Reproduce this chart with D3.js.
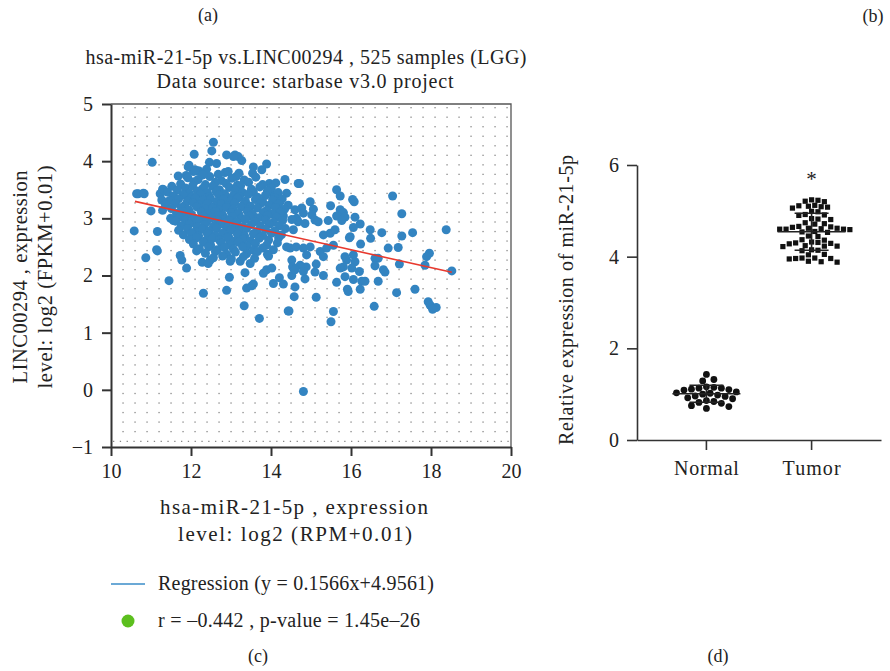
<!DOCTYPE html>
<html>
<head>
<meta charset="utf-8">
<script src="https://cdn.jsdelivr.net/npm/d3@7"></script>
<style>
  body { margin: 0; background: #fff; }
  svg { display: block; }
  text { font-family: "Liberation Serif", "DejaVu Serif", serif; fill: #222; }
</style>
</head>
<body>
<div id="chart"></div>
<script>
// ---- data ----
// panel (c): miR-21-5p (x) vs LINC00294 (y), LGG samples
var lggPoints = [
  [12.56,4.33],[12.52,4.18],[12.08,4.12],[11.03,3.98],[13.1,4.11],[13.18,4.08],[13.27,4.01],[12.89,4.11],[13.06,4.08],
  [12.46,3.98],[12.64,3.96],[11.95,3.93],[12.17,3.83],[12.06,3.82],[12.39,3.86],[12.68,3.77],[12.85,3.80],[12.93,3.82],[13.2,3.79],[13.13,3.73],
  [13.56,3.90],[13.54,3.79],[13.77,3.85],[13.89,3.95],[11.68,3.74],[11.88,3.75],[14.35,3.68],[14.68,3.61],[13.96,3.61],
  [10.64,3.43],[10.81,3.44],[11.29,3.51],[11.23,3.43],[11.0,3.13],[11.29,3.14],[10.58,2.78],[11.16,2.77],[11.49,3.0],[11.56,2.96],
  [14.06,3.41],[14.23,3.29],[14.14,3.15],[14.39,3.44],[14.43,3.23],[14.31,3.04],[14.6,3.15],[14.64,3.0],[14.56,2.8],
  [11.16,2.43],[10.87,2.31],[11.73,2.35],[11.77,2.27],[12.14,2.43],[11.89,2.13],[12.28,2.23],[12.48,2.27],[12.43,2.21],[11.45,1.91],
  [12.98,2.25],[13.23,2.25],[13.48,2.21],[12.96,1.97],[13.35,2.05],[12.31,1.69],[12.89,1.74],[13.39,1.78],[13.52,1.82],[13.56,1.85],
  [13.33,1.47],[13.71,1.25],[13.81,2.04],[13.89,2.10],[14.02,2.13],[14.06,1.86],[14.21,1.96],[14.31,1.85],[14.43,1.38],[14.6,1.80],[14.58,1.63],
  [14.52,2.27],[14.56,2.13],[14.48,2.48],[14.39,2.5],[14.52,2.0],
  [14.71,3.61],[15.64,3.5],[15.73,3.39],[16.04,3.33],[16.08,3.29],[17.04,3.39],[14.98,3.29],[15.49,3.22],
  [14.77,3.18],[14.81,3.09],[15.06,3.16],[15.02,3.06],[15.1,2.97],[15.18,2.94],[17.27,3.08],
  [15.73,3.15],[15.81,3.1],[15.64,3.04],[15.85,3.02],[15.77,2.96],[15.43,2.96],[16.1,3.02],[16.23,2.90],[16.06,2.84],[16.48,2.80],[16.77,2.75],[17.27,2.69],[17.54,2.75],[18.38,2.80],
  [14.85,2.91],[14.68,2.94],[14.52,2.98],[15.48,2.74],[15.6,2.8],[15.31,2.71],[15.98,2.68],
  [16.49,2.65],[15.96,2.66],[16.93,2.48],[17.18,2.49],[17.96,2.39],[17.89,2.33],[17.85,2.18],[18.52,2.08],[17.21,2.2],
  [16.6,2.3],[16.68,2.3],[16.6,2.17],[16.24,2.55],[16.06,2.36],[16.1,2.24],[15.89,2.27],[15.81,2.15],[15.73,2.13],[16.02,2.13],[15.85,2.33],
  [16.81,2.10],[16.85,2.06],[16.21,2.07],[14.88,2.15],[15.13,2.2],[15.1,2.06],[15.31,2.0],[14.85,1.94],
  [15.85,1.98],[16.06,1.93],[16.27,1.9],[16.35,1.9],[16.68,1.9],[15.64,1.88],[15.91,1.76],[15.93,1.72],[16.23,1.76],[15.13,1.62],[17.14,1.70],[17.6,1.76],
  [17.93,1.54],[17.98,1.48],[18.13,1.44],[18.04,1.41],[16.58,1.46],[15.56,1.37],[15.5,1.19],[14.45,1.38],[14.81,-0.03],
  [14.63,2.5],[14.81,2.48],[14.98,2.5],[14.89,2.36],[14.73,2.18],[14.54,2.15],[14.6,2.10],[14.81,2.07],
  [15.23,2.42],[15.39,2.48],[15.56,2.53],[15.31,2.33],
  [11.31,3.50],[11.27,3.32],[11.14,2.45],[10.68,3.43],[10.83,3.43],[12.2,3.83],[11.93,3.90],[12.1,3.85],
  // dense core
  [11.92,3.71],[12.18,3.68],[12.47,3.73],[12.76,3.66],[13.02,3.70],[13.33,3.67],[13.62,3.72],[12.3,3.76],
  [11.74,3.60],[12.08,3.64],[12.36,3.59],[12.61,3.63],[12.88,3.61],[13.16,3.58],[13.44,3.63],[13.79,3.59],[14.12,3.62],
  [11.52,3.56],[11.86,3.53],[12.04,3.57],[12.29,3.52],[12.54,3.56],[12.71,3.50],[12.96,3.54],[13.24,3.57],[13.51,3.51],[13.72,3.55],[14.01,3.53],
  [11.41,3.46],[11.66,3.49],[11.96,3.44],[12.16,3.48],[12.41,3.45],[12.63,3.47],[12.84,3.43],[13.11,3.49],[13.29,3.45],[13.56,3.46],[13.91,3.48],[14.18,3.45],
  [11.56,3.39],[11.81,3.41],[12.01,3.37],[12.24,3.42],[12.46,3.38],[12.69,3.41],[12.91,3.36],[13.06,3.40],[13.21,3.38],[13.43,3.42],[13.66,3.37],[13.86,3.40],[14.09,3.36],
  [11.46,3.31],[11.69,3.34],[11.91,3.30],[12.11,3.35],[12.31,3.32],[12.49,3.34],[12.66,3.29],[12.81,3.33],[13.01,3.31],[13.16,3.35],[13.36,3.30],[13.61,3.33],[13.79,3.29],[14.04,3.32],[14.28,3.34],
  [11.36,3.24],[11.61,3.26],[11.84,3.22],[12.06,3.27],[12.21,3.23],[12.41,3.26],[12.59,3.21],[12.76,3.25],[12.94,3.22],[13.09,3.27],[13.31,3.24],[13.49,3.21],[13.74,3.26],[13.96,3.23],[14.19,3.25],
  [11.51,3.17],[11.76,3.19],[11.94,3.15],[12.14,3.20],[12.36,3.16],[12.54,3.18],[12.71,3.14],[12.89,3.19],[13.06,3.16],[13.26,3.20],[13.44,3.15],[13.66,3.18],[13.89,3.14],[14.11,3.19],[14.34,3.16],
  [11.64,3.09],[11.79,3.12],[12.01,3.07],[12.26,3.11],[12.44,3.08],[12.61,3.12],[12.79,3.06],[13.01,3.10],[13.19,3.08],[13.41,3.12],[13.54,3.07],[13.81,3.10],[14.01,3.08],[14.24,3.11],
  [11.71,3.02],[11.89,3.05],[12.09,3.00],[12.31,3.04],[12.51,3.01],[12.69,3.05],[12.86,2.99],[13.04,3.03],[13.26,3.00],[13.46,3.04],[13.69,3.01],[13.91,3.05],[14.14,3.02],
  [11.61,2.95],[11.86,2.97],[12.04,2.93],[12.21,2.98],[12.39,2.94],[12.66,2.97],[12.81,2.92],[12.96,2.96],[13.14,2.93],[13.36,2.98],[13.59,2.94],[13.86,2.97],[14.06,2.93],[14.29,2.96],
  [11.76,2.87],[11.96,2.90],[12.16,2.85],[12.34,2.89],[12.56,2.86],[12.74,2.90],[12.91,2.84],[13.11,2.88],[13.29,2.85],[13.51,2.89],[13.74,2.86],[13.96,2.90],[14.21,2.87],
  [11.69,2.79],[11.91,2.82],[12.11,2.77],[12.29,2.81],[12.46,2.78],[12.64,2.83],[12.86,2.77],[13.01,2.80],[13.21,2.78],[13.39,2.82],[13.64,2.77],[13.86,2.81],[14.09,2.78],[14.36,2.82],
  [11.81,2.71],[12.01,2.74],[12.19,2.69],[12.41,2.73],[12.61,2.70],[12.79,2.74],[12.94,2.68],[13.16,2.72],[13.34,2.69],[13.56,2.73],[13.79,2.70],[14.01,2.74],[14.26,2.71],
  [11.96,2.63],[12.14,2.66],[12.36,2.61],[12.54,2.65],[12.71,2.62],[12.91,2.66],[13.09,2.60],[13.31,2.64],[13.49,2.61],[13.71,2.65],[13.94,2.62],[14.19,2.66],
  [12.06,2.55],[12.31,2.58],[12.49,2.53],[12.76,2.57],[12.96,2.54],[13.19,2.58],[13.41,2.52],[13.61,2.56],[13.89,2.53],[14.16,2.57],
  [12.21,2.47],[12.44,2.50],[12.66,2.45],[12.84,2.49],[13.06,2.46],[13.29,2.50],[13.56,2.44],[13.79,2.48],[14.06,2.45],
  [12.36,2.39],[12.61,2.42],[12.89,2.37],[13.11,2.41],[13.39,2.38],[13.66,2.42],[13.91,2.37],
  [12.56,2.31],[12.79,2.34],[13.01,2.29],[13.31,2.33],[13.59,2.30],[13.94,2.34]
];
var regSlope = -0.1566, regIntercept = 4.9561;
var regRange = [10.6, 18.52];
var xTicksC = [10, 12, 14, 16, 18, 20];
var yTicksC = [-1, 0, 1, 2, 3, 4, 5];

// panel (d): relative expression of miR-21-5p
var groups = ["Normal", "Tumor"];
var normalVals = [1.43,1.32,1.29,1.13,1.13,1.09,1.05,1.15,1.16,1.11,1.10,1.03,0.96,0.95,1.00,0.98,
                  0.82,0.80,0.75,0.84,0.86,0.73,0.69,0.92,0.90,1.02];
var tumorVals = [5.23,5.21,5.24,5.20,5.12,5.11,5.10,5.08,5.09,5.06,4.99,4.98,4.92,4.90,4.91,4.83,4.81,4.82,
                 4.74,4.72,4.71,4.65,4.64,4.66,4.60,4.60,4.61,4.59,4.60,4.62,4.62,4.55,4.53,4.54,4.45,4.44,
                 4.37,4.36,4.31,4.29,4.30,4.32,4.28,4.23,4.24,4.22,4.23,4.15,4.13,4.14,4.05,4.04,3.97,3.96,
                 3.95,3.96,3.97,3.90,3.88,3.89];
var yTicksD = [0, 2, 4, 6];

var width = 890, height = 671;
var svg = d3.select("#chart").append("svg")
  .attr("width", width)
  .attr("height", height);

// text helper: the original face is wider than Liberation Serif, so stretch to the measured width
function label(x, y, str, size, len, anchor, rot) {
  var t = svg.append("text")
    .attr("font-size", size + "px")
    .attr("text-anchor", anchor || "middle")
    .text(str);
  if (rot) t.attr("transform", "translate(" + x + "," + y + ") rotate(" + rot + ")");
  else t.attr("x", x).attr("y", y);
  if (len) t.attr("textLength", len).attr("lengthAdjust", "spacing");
  return t;
}

// ================= panel (c) =================
var x = d3.scaleLinear().domain([10, 20]).range([111, 511]);
var y = d3.scaleLinear().domain([-1, 5]).range([447, 104]);

// dotted background grid
var gridCols = d3.range(10.3, 20, 0.3);
var gridRows = d3.range(-0.73, 5, 1 / 6);
var grid = svg.append("g");
gridRows.forEach(function(r) {
  grid.selectAll(null)
    .data(gridCols)
    .enter()
    .append("rect")
    .attr("x", function(c) { return x(c) - 0.6; })
    .attr("y", y(r) - 0.6)
    .attr("width", 1.3)
    .attr("height", 1.3)
    .attr("fill", "#888");
});
grid.append("line")
  .attr("x1", x(10) + 2).attr("x2", x(20) - 2)
  .attr("y1", y(-0.9)).attr("y2", y(-0.9))
  .attr("stroke", "#888")
  .attr("stroke-width", 1.2)
  .attr("stroke-dasharray", "1.3,5.5");

// frame (top/right)
svg.append("path")
  .attr("d", "M" + x(10) + "," + y(5) + "H" + x(20) + "V" + y(-1))
  .attr("fill", "none")
  .attr("stroke", "#555")
  .attr("stroke-width", 1.3);

// points
svg.append("g")
  .selectAll("circle")
  .data(lggPoints)
  .enter()
  .append("circle")
  .attr("cx", function(d) { return x(d[0]); })
  .attr("cy", function(d) { return y(d[1]); })
  .attr("r", 4.5)
  .attr("fill", "#3384c1");

// regression line
svg.append("line")
  .attr("x1", x(regRange[0])).attr("y1", y(regSlope * regRange[0] + regIntercept))
  .attr("x2", x(regRange[1])).attr("y2", y(regSlope * regRange[1] + regIntercept))
  .attr("stroke", "#e8392e")
  .attr("stroke-width", 1.6);

// axes
var fmt = d3.format("d");
var xAxisC = svg.append("g")
  .attr("transform", "translate(0," + y(-1) + ")")
  .call(d3.axisBottom(x).tickValues(xTicksC).tickFormat(fmt).tickSize(9).tickSizeOuter(0).tickPadding(8));
var yAxisC = svg.append("g")
  .attr("transform", "translate(" + x(10) + ",0)")
  .call(d3.axisLeft(y).tickValues(yTicksC).tickFormat(fmt).tickSize(9).tickSizeOuter(0).tickPadding(9));
[xAxisC, yAxisC].forEach(function(a) {
  a.selectAll("path, line").attr("stroke", "#333").attr("stroke-width", 2);
  a.selectAll("text").attr("font-size", "20px").attr("fill", "#222")
    .attr("font-family", "Liberation Serif, serif");
});

// titles and labels
label(208, 21, "(a)", 18);
label(873, 22, "(b)", 18);
label(306, 64, "hsa-miR-21-5p vs.LINC00294 , 525 samples (LGG)", 20, 441);
label(305, 88, "Data source: starbase v3.0 project", 20, 297);

label(294, 514, "hsa-miR-21-5p , expression", 21, 268);
label(295, 541, "level: log2 (RPM+0.01)", 21, 234);

label(27, 277, "LINC00294 , expression", 20.5, 213, "middle", -90);
label(52, 277, "level: log2 (FPKM+0.01)", 20.5, 223, "middle", -90);

// legend
svg.append("line")
  .attr("x1", 111).attr("x2", 145).attr("y1", 584).attr("y2", 584)
  .attr("stroke", "#3a8cc8").attr("stroke-width", 1.5);
label(158, 590, "Regression (y = 0.1566x+4.9561)", 20, 276, "start");
svg.append("circle").attr("cx", 128).attr("cy", 621).attr("r", 6.5).attr("fill", "#5cbf1e");
label(158, 627, "r = \u20130.442 , p-value = 1.45e\u201326", 20, 262, "start");
label(258, 662, "(c)", 18);

// ================= panel (d) =================
var x2 = d3.scaleBand().domain(groups).range([637, 881]).paddingInner(0.4).paddingOuter(0.36);
var y2 = d3.scaleLinear().domain([0, 6]).range([440, 165]);

// simple beeswarm so the dots spread sideways without overlapping
function swarm(vals, rad) {
  var placed = [];
  vals.slice().sort(d3.descending).forEach(function(v) {
    var py = y2(v), k = 0, off;
    while (true) {
      off = (k % 2 ? 1 : -1) * Math.ceil(k / 2) * rad * 1.1;
      var ok = placed.every(function(p) {
        var dx = p.off - off, dy = p.py - py;
        return dx * dx + dy * dy >= (2 * rad) * (2 * rad);
      });
      if (ok) break;
      k++;
    }
    placed.push({ v: v, py: py, off: off });
  });
  return placed;
}

var normalPts = swarm(normalVals, 3.4);
var tumorPts = swarm(tumorVals, 2.9);
var cx0 = x2("Normal") + x2.bandwidth() / 2;
var cx1 = x2("Tumor") + x2.bandwidth() / 2;

svg.append("g").selectAll("circle")
  .data(normalPts).enter().append("circle")
  .attr("cx", function(d) { return cx0 + d.off; })
  .attr("cy", function(d) { return d.py; })
  .attr("r", 3.4)
  .attr("fill", "#111");

svg.append("g").selectAll("rect")
  .data(tumorPts).enter().append("rect")
  .attr("x", function(d) { return cx1 + d.off - 2.6; })
  .attr("y", function(d) { return d.py - 2.6; })
  .attr("width", 5.2)
  .attr("height", 5.2)
  .attr("fill", "#111");

// mean +/- SD bars
[[cx0, normalVals], [cx1, tumorVals]].forEach(function(g) {
  var m = d3.mean(g[1]), s = d3.deviation(g[1]);
  var bar = svg.append("g").attr("stroke", "#222").attr("stroke-width", 1.6);
  bar.append("line").attr("x1", g[0] - 34).attr("x2", g[0] + 34).attr("y1", y2(m)).attr("y2", y2(m));
  bar.append("line").attr("x1", g[0] - 17).attr("x2", g[0] + 17).attr("y1", y2(m + s)).attr("y2", y2(m + s));
  bar.append("line").attr("x1", g[0] - 17).attr("x2", g[0] + 17).attr("y1", y2(m - s)).attr("y2", y2(m - s));
  bar.append("line").attr("x1", g[0]).attr("x2", g[0]).attr("y1", y2(m + s)).attr("y2", y2(m - s));
});

label(cx1, 186, "*", 21);

var xAxisD = svg.append("g")
  .attr("transform", "translate(0," + y2(0) + ")")
  .call(d3.axisBottom(x2).tickSize(10).tickSizeOuter(0).tickPadding(11));
var yAxisD = svg.append("g")
  .attr("transform", "translate(" + x2.range()[0] + ",0)")
  .call(d3.axisLeft(y2).tickValues(yTicksD).tickFormat(fmt).tickSize(10).tickSizeOuter(0).tickPadding(8));
[xAxisD, yAxisD].forEach(function(a) {
  a.selectAll("path, line").attr("stroke", "#333").attr("stroke-width", 1.6);
  a.selectAll("text").attr("font-size", "20px").attr("fill", "#222")
    .attr("font-family", "Liberation Serif, serif");
});
xAxisD.selectAll(".tick text").attr("textLength", function(d) { return d === "Normal" ? 65 : 58; })
  .attr("lengthAdjust", "spacing");

label(573, 300, "Relative expression of miR-21-5p", 20, 290, "middle", -90);
label(718, 662, "(d)", 18);
</script>
</body>
</html>
